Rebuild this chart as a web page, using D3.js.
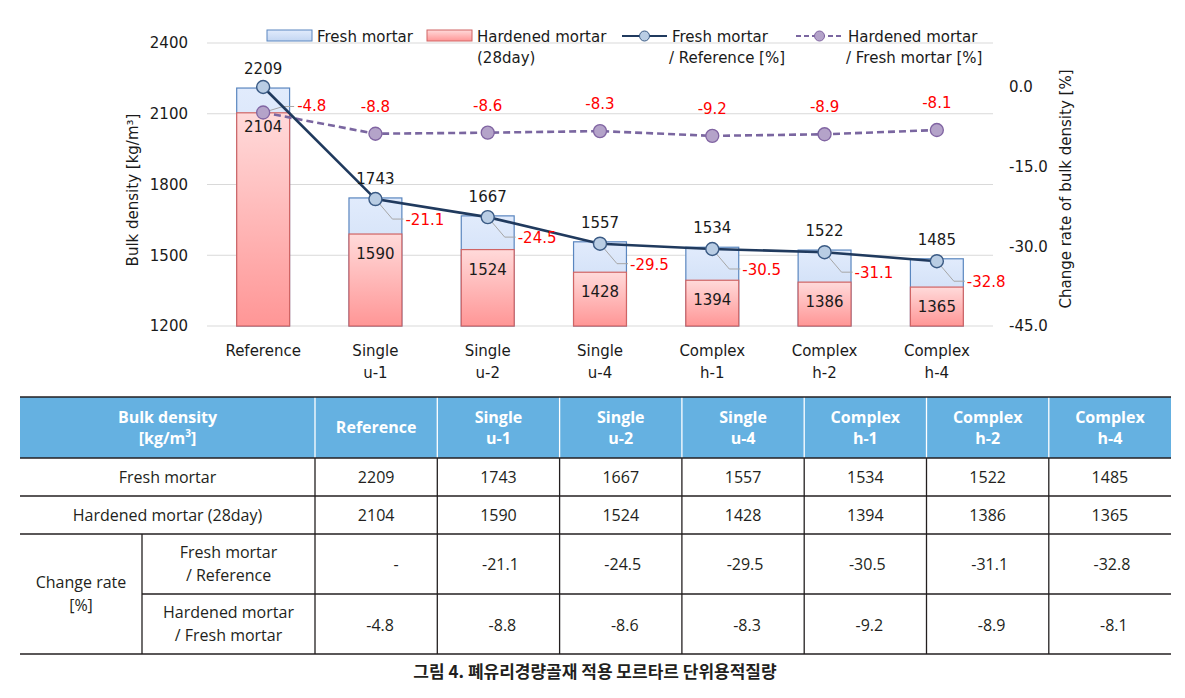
<!DOCTYPE html>
<html><head><meta charset="utf-8">
<script src="https://cdn.jsdelivr.net/npm/d3@7"></script>
<style>body{margin:0;background:#fff;} svg{display:block;}</style>
</head><body><svg id="c" width="1185" height="698"></svg>
<script>
// ---------- data ----------
const categories = ["Reference","Single\nu-1","Single\nu-2","Single\nu-4","Complex\nh-1","Complex\nh-2","Complex\nh-4"];
const freshDensity = [2209,1743,1667,1557,1534,1522,1485];
const hardenedDensity = [2104,1590,1524,1428,1394,1386,1365];
const freshRate = [0,-21.1,-24.5,-29.5,-30.5,-31.1,-32.8];      // first = reference itself ("-")
const hardenedRate = [-4.8,-8.8,-8.6,-8.3,-9.2,-8.9,-8.1];
const leftTicks = [1200,1500,1800,2100,2400];
const rightTicks = [0,-15,-30,-45];
const caption = "그림 4. 폐유리경량골재 적용 모르타르 단위용적질량";

// ---------- setup ----------
const svg = d3.select("#c");
const F = "'DejaVu Sans', sans-serif";
const TF = "'Open Sans', sans-serif";
const defs = svg.append("defs");
const gb = defs.append("linearGradient").attr("id","gBlue").attr("x1",0).attr("y1",0).attr("x2",0).attr("y2",1);
gb.append("stop").attr("offset","0%").attr("stop-color","#e1ebfc");
gb.append("stop").attr("offset","100%").attr("stop-color","#c3d6f2");
const gr = defs.append("linearGradient").attr("id","gRed").attr("x1",0).attr("y1",0).attr("x2",0).attr("y2",1);
gr.append("stop").attr("offset","0%").attr("stop-color","#ffdada");
gr.append("stop").attr("offset","100%").attr("stop-color","#ff9696");

const X0 = 207, X1 = 993;
const x = d3.scaleBand().domain(d3.range(categories.length)).range([X0,X1]).paddingInner(0.52).paddingOuter(0.26);
const bw = x.bandwidth();
const cx = i => x(i) + bw/2;
const yL = d3.scaleLinear().domain([1200,2400]).range([326,43]);
const yR = d3.scaleLinear().domain([-45,0]).range([326,87]);

// gridlines
svg.append("g").selectAll("line").data(leftTicks).join("line")
  .attr("x1",X0).attr("x2",X1).attr("y1",d=>yL(d)).attr("y2",d=>yL(d))
  .attr("stroke","#d9d9d9").attr("stroke-width",1);

// axes
const axL = svg.append("g").attr("transform",`translate(${X0},0)`)
  .call(d3.axisLeft(yL).tickValues(leftTicks).tickSize(0).tickPadding(19).tickFormat(d=>String(d)));
axL.select(".domain").remove();
axL.selectAll("text").attr("font-family",F).attr("font-size",15).attr("fill","#1a1a1a");

const axR = svg.append("g").attr("transform",`translate(${X1},0)`)
  .call(d3.axisRight(yR).tickValues(rightTicks).tickSize(0).tickPadding(16).tickFormat(d=>d.toFixed(1)));
axR.select(".domain").remove();
axR.selectAll("text").attr("font-family",F).attr("font-size",15).attr("fill","#1a1a1a");

const axB = svg.append("g").attr("transform",`translate(0,326)`)
  .call(d3.axisBottom(x).tickSize(0).tickFormat(""));
axB.select(".domain").remove();
axB.selectAll(".tick").each(function(d){
  const t = d3.select(this).append("text").attr("font-family",F).attr("font-size",15)
    .attr("fill","#1a1a1a").attr("text-anchor","middle");
  categories[d].split("\n").forEach((s,k)=>t.append("tspan").attr("x",0).attr("y",30+k*22).text(s));
});

// axis titles
svg.append("text").attr("transform","translate(138,190) rotate(-90)").attr("text-anchor","middle")
  .attr("font-family",F).attr("font-size",15).attr("fill","#1a1a1a")
  .text("Bulk density [kg/m³]");
svg.append("text").attr("transform","translate(1071,189) rotate(-90)").attr("text-anchor","middle")
  .attr("font-family",F).attr("font-size",15).attr("fill","#1a1a1a")
  .text("Change rate of bulk density [%]");

// bars
svg.append("g").selectAll("rect").data(freshDensity).join("rect")
  .attr("x",(d,i)=>x(i)+0.5).attr("y",d=>yL(d)).attr("width",bw-1).attr("height",d=>326-yL(d))
  .attr("fill","url(#gBlue)").attr("stroke","#5a86bf").attr("stroke-width",1.2);
svg.append("g").selectAll("rect").data(hardenedDensity).join("rect")
  .attr("x",(d,i)=>x(i)+0.5).attr("y",d=>yL(d)).attr("width",bw-1).attr("height",d=>326-yL(d))
  .attr("fill","url(#gRed)").attr("stroke","#d06464").attr("stroke-width",1.2);

// leader lines
const lead = svg.append("g").attr("stroke","#a6a6a6").attr("stroke-width",1).attr("fill","none");
freshRate.forEach((v,i)=>{
  if(i===0) return;
  const mx = cx(i), my = yR(v);
  lead.append("polyline").attr("points",`${mx},${my} ${mx+17},${my+20} ${mx+28},${my+20}`);
});
{
  const mx = cx(0), my = yR(hardenedRate[0]);
  lead.append("polyline").attr("points",`${mx},${my} ${mx+20},${my-6} ${mx+31},${my-6}`);
}

// lines
const lnP = d3.line().x((d,i)=>cx(i)).y(d=>yR(d));
svg.append("path").datum(hardenedRate).attr("d",lnP).attr("fill","none")
  .attr("stroke","#7a66a0").attr("stroke-width",2.6).attr("stroke-dasharray","7,4");
svg.append("g").selectAll("circle").data(hardenedRate).join("circle")
  .attr("cx",(d,i)=>cx(i)).attr("cy",d=>yR(d)).attr("r",6.5)
  .attr("fill","#b4a3c9").attr("stroke","#8064a2").attr("stroke-width",1.3);

svg.append("path").datum(freshRate).attr("d",lnP).attr("fill","none")
  .attr("stroke","#203a5e").attr("stroke-width",2.6);
svg.append("g").selectAll("circle").data(freshRate).join("circle")
  .attr("cx",(d,i)=>cx(i)).attr("cy",d=>yR(d)).attr("r",6.5)
  .attr("fill","#b9cde4").attr("stroke","#3a5a84").attr("stroke-width",1.4);

// data labels
const lab = svg.append("g").attr("font-family",F).attr("font-size",15);
freshDensity.forEach((v,i)=>{
  lab.append("text").attr("x",cx(i)).attr("y",yL(v)-19+5).attr("text-anchor","middle").attr("fill","#1a1a1a").text(v);
});
hardenedDensity.forEach((v,i)=>{
  lab.append("text").attr("x",cx(i)).attr("y",yL(v)+(i===0?14:20)+5).attr("text-anchor","middle").attr("fill","#1a1a1a").text(v);
});
freshRate.forEach((v,i)=>{
  if(i===0) return;
  lab.append("text").attr("x",cx(i)+30).attr("y",yR(v)+21+5).attr("fill","#ff0000").text(v.toFixed(1));
});
hardenedRate.forEach((v,i)=>{
  if(i===0) lab.append("text").attr("x",cx(i)+34).attr("y",yR(v)-6+5).attr("fill","#ff0000").text(v.toFixed(1));
  else lab.append("text").attr("x",cx(i)).attr("y",yR(v)-27+5).attr("text-anchor","middle").attr("fill","#ff0000").text(v.toFixed(1));
});

// legend
const lg = svg.append("g").attr("font-family",F).attr("font-size",15).attr("fill","#1a1a1a");
lg.append("rect").attr("x",267).attr("y",30).attr("width",45).attr("height",11).attr("fill","url(#gBlue)").attr("stroke","#5a86bf");
lg.append("text").attr("x",317).attr("y",42).text("Fresh mortar");
lg.append("rect").attr("x",427).attr("y",30).attr("width",45).attr("height",11).attr("fill","url(#gRed)").attr("stroke","#d06464");
lg.append("text").attr("x",477).attr("y",42).text("Hardened mortar");
lg.append("text").attr("x",477).attr("y",63).text("(28day)");
lg.append("line").attr("x1",622).attr("x2",667).attr("y1",36).attr("y2",36).attr("stroke","#203a5e").attr("stroke-width",2);
lg.append("circle").attr("cx",644.5).attr("cy",36).attr("r",5).attr("fill","#b9cde4").attr("stroke","#3a5a84");
lg.append("text").attr("x",672).attr("y",42).text("Fresh mortar");
lg.append("text").attr("x",669).attr("y",63).text("/ Reference [%]");
lg.append("line").attr("x1",796).attr("x2",843).attr("y1",36).attr("y2",36).attr("stroke","#7a66a0").attr("stroke-width",2).attr("stroke-dasharray","5,3");
lg.append("circle").attr("cx",819.5).attr("cy",36).attr("r",5).attr("fill","#b4a3c9").attr("stroke","#8064a2");
lg.append("text").attr("x",848).attr("y",42).text("Hardened mortar");
lg.append("text").attr("x",846).attr("y",63).text("/ Fresh mortar [%]");

// ---------- table ----------
const colX = [20,142,315,437.3,559.6,681.9,804.2,926.5,1048.8,1171];
const tb = svg.append("g");
tb.append("rect").attr("x",20).attr("y",397).attr("width",1151).attr("height",61).attr("fill","#65b1e1");
for(let k=2;k<colX.length-1;k++) tb.append("line").attr("x1",colX[k]).attr("x2",colX[k]).attr("y1",397).attr("y2",458).attr("stroke","#fff").attr("stroke-width",1.3);
for(let k=2;k<colX.length-1;k++) tb.append("line").attr("x1",colX[k]).attr("x2",colX[k]).attr("y1",458).attr("y2",654).attr("stroke","#231f20").attr("stroke-width",1.3);
tb.append("line").attr("x1",142).attr("x2",142).attr("y1",534).attr("y2",654).attr("stroke","#231f20").attr("stroke-width",1.3);
[397,458,496,534,654].forEach(y=>tb.append("line").attr("x1",20).attr("x2",1171).attr("y1",y).attr("y2",y).attr("stroke","#231f20").attr("stroke-width",1.3));
tb.append("line").attr("x1",142).attr("x2",1171).attr("y1",594).attr("y2",594).attr("stroke","#231f20").attr("stroke-width",1.3);

function cellText(cxp, cyp, lines, opts={}){
  const t = tb.append("text").attr("text-anchor","middle").attr("font-family",TF)
    .attr("font-size",opts.size||16).attr("font-weight",opts.bold?"bold":"normal").attr("fill",opts.color||"#231f20");
  const lh = opts.lh||22;
  lines.forEach((s,k)=>{
    const ts = t.append("tspan").attr("x",cxp).attr("y",cyp - (lines.length-1)*lh/2 + k*lh + 5.5);
    if(s.includes("³")){ ts.text(s.split("³")[0]); t.append("tspan").attr("font-size",10).attr("dy",-7).text("3"); t.append("tspan").attr("dy",7).text(s.split("³")[1]); }
    else ts.text(s);
  });
}
const hdr = {bold:true, color:"#ffffff", lh:21};
cellText((20+315)/2, 427.5, ["Bulk density","[kg/m³]"], hdr);
categories.forEach((c,i)=>cellText((colX[i+2]+colX[i+3])/2, 427.5, c.split("\n"), hdr));
cellText((20+315)/2, 477, ["Fresh mortar"]);
cellText((20+315)/2, 515, ["Hardened mortar (28day)"]);
cellText(81, 594, ["Change rate","[%]"], {lh:23});
cellText((142+315)/2, 564, ["Fresh mortar","/ Reference"], {lh:23});
cellText((142+315)/2, 624, ["Hardened mortar","/ Fresh mortar"], {lh:23});
freshDensity.forEach((v,i)=>cellText((colX[i+2]+colX[i+3])/2, 477, [String(v)]));
hardenedDensity.forEach((v,i)=>cellText((colX[i+2]+colX[i+3])/2, 515, [String(v)]));
freshRate.forEach((v,i)=>cellText((colX[i+2]+colX[i+3])/2 + (i===0?20:2), 564, [i===0?"-":v.toFixed(1)]));
hardenedRate.forEach((v,i)=>cellText((colX[i+2]+colX[i+3])/2 + 4, 625, [v.toFixed(1)]));

// caption
svg.append("text").attr("x",595).attr("y",678).attr("text-anchor","middle")
  .attr("font-family","'Noto Sans CJK KR', sans-serif").attr("font-weight","bold").attr("font-size",17)
  .attr("fill","#231f20").text(caption);
</script></body></html>
